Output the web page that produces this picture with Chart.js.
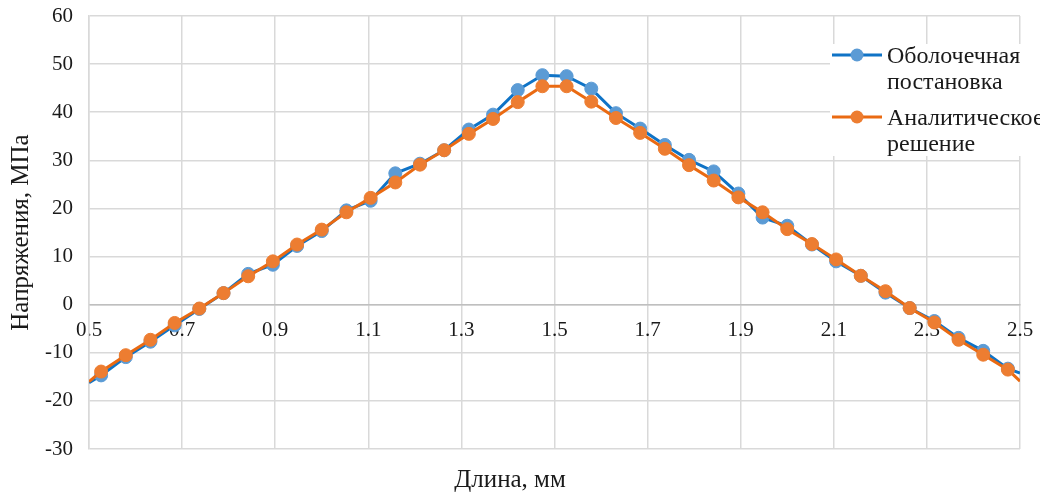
<!DOCTYPE html>
<html>
<head>
<meta charset="utf-8">
<script src="https://cdn.jsdelivr.net/npm/chart.js@4.4.1/dist/chart.umd.min.js"></script>
<style>
  html, body { margin: 0; padding: 0; background: #fff; }
  #chart { display: block; }
</style>
</head>
<body>
<canvas id="chart" width="1040" height="493"></canvas>
<script>
// Длина, мм (ends of the curve have no marker)
const lengthMm = [0.5, 0.526, 0.579, 0.632, 0.684, 0.737, 0.789, 0.842, 0.895, 0.947,
    1.0, 1.053, 1.105, 1.158, 1.211, 1.263, 1.316, 1.368, 1.421, 1.474,
    1.526, 1.579, 1.632, 1.684, 1.737, 1.789, 1.842, 1.895, 1.947, 2.0,
    2.053, 2.105, 2.158, 2.211, 2.263, 2.316, 2.368, 2.421, 2.474, 2.5];

// Оболочечная постановка, МПа
const shellValues = [-16.2, -14.7, -10.9, -7.7, -4.3, -0.9, 2.4, 6.4, 8.3, 12.2,
    15.3, 19.6, 21.6, 27.3, 29.3, 32.1, 36.4, 39.5, 44.6, 47.7,
    47.5, 44.9, 39.8, 36.6, 33.2, 30.1, 27.7, 23.1, 18.1, 16.4,
    12.5, 9.0, 6.0, 2.5, -0.7, -3.4, -6.9, -9.6, -13.3, -14.2];

// Аналитическое решение, МПа
const analyticValues = [-16.0, -13.9, -10.5, -7.3, -3.8, -0.8, 2.4, 5.9, 9.0, 12.5,
    15.6, 19.2, 22.2, 25.4, 29.1, 32.1, 35.5, 38.6, 42.1, 45.4,
    45.4, 42.2, 38.8, 35.7, 32.4, 29.0, 25.8, 22.3, 19.2, 15.7,
    12.6, 9.4, 6.0, 2.8, -0.7, -3.7, -7.3, -10.4, -13.5, -15.9];

const xTicks = [0.5, 0.7, 0.9, 1.1, 1.3, 1.5, 1.7, 1.9, 2.1, 2.3, 2.5];
const yMin = -30, yMax = 60, yStep = 10;

const legendRows = [['Оболочечная', 'постановка'], ['Аналитическое', 'решение']];
const xTitle = 'Длина, мм';
const yTitle = 'Напряжения, МПа';

const TEXT = '#1a1a1a';
const GRID = '#d9d9d9';
Chart.defaults.font.family = '"Liberation Serif", "Times New Roman", serif';
Chart.defaults.color = TEXT;

function to_points(values) {
    return values.map((v, i) => ({ x: lengthMm[i], y: v }));
}

function marker_radius(ctx) {
    const last = lengthMm.length - 1;
    return (ctx.dataIndex === 0 || ctx.dataIndex === last) ? 0 : 6.5;
}

const side_legend = {
    id: 'side_legend',
    afterDraw: (chart) => {
        const ctx = chart.ctx;
        ctx.save();
        ctx.fillStyle = '#fff';
        ctx.fillRect(830, 44, 210, 112);
        ctx.font = '24px "Liberation Serif"';
        ctx.textBaseline = 'middle';
        legendRows.forEach((lines, i) => {
            const ds = chart.data.datasets[i];
            const y = 55 + i * 62;
            ctx.strokeStyle = ds.borderColor;
            ctx.lineWidth = 3;
            ctx.beginPath();
            ctx.moveTo(832, y);
            ctx.lineTo(882, y);
            ctx.stroke();
            ctx.fillStyle = ds.pointBackgroundColor;
            ctx.beginPath();
            ctx.arc(857, y, 6.5, 0, 2 * Math.PI);
            ctx.fill();
            ctx.fillStyle = TEXT;
            lines.forEach((t, j) => ctx.fillText(t, 887, y + 2 + j * 26));
        });
        ctx.restore();
    }
};

const config = {
    type: 'line',
    data: {
        datasets: [{
            label: legendRows[0].join(' '),
            data: to_points(shellValues),
            borderColor: '#0f73c6',
            backgroundColor: '#5b9bd5',
            pointBackgroundColor: '#5b9bd5',
            pointBorderColor: '#5b9bd5',
            borderWidth: 3,
            pointRadius: marker_radius,
            pointBorderWidth: 1,
            tension: 0,
            order: 1
        }, {
            label: legendRows[1].join(' '),
            data: to_points(analyticValues),
            borderColor: '#ea6a12',
            backgroundColor: '#ed7d31',
            pointBackgroundColor: '#ed7d31',
            pointBorderColor: '#ed7d31',
            borderWidth: 3,
            pointRadius: marker_radius,
            pointBorderWidth: 1,
            tension: 0,
            order: 0
        }]
    },
    options: {
        responsive: false,
        animation: false,
        layout: { padding: { left: 0, right: 20, top: 16, bottom: 0 } },
        plugins: {
            legend: { display: false },
            tooltip: { enabled: false },
            title: {
                display: true,
                text: xTitle,
                position: 'bottom',
                color: TEXT,
                font: { size: 25, weight: 'normal', lineHeight: 1 },
                padding: { top: 19, bottom: 0 }
            }
        },
        scales: {
            x: {
                type: 'linear',
                position: { y: 0 },
                min: 0.5,
                max: 2.5,
                afterBuildTicks: (s) => { s.ticks = xTicks.map(v => ({ value: v })); },
                afterFit: (s) => { s.height = 0; s.paddingLeft = 0; s.paddingRight = 0; },
                ticks: {
                    font: { size: 21 },
                    padding: 13,
                    maxRotation: 0,
                    autoSkip: false,
                    callback: (v) => Number(v).toFixed(1)
                },
                grid: { color: GRID, lineWidth: 1.5, drawTicks: false },
                border: { display: true, color: '#bfbfbf', width: 1.5 }
            },
            y: {
                type: 'linear',
                min: yMin,
                max: yMax,
                afterFit: (s) => { s.width = 89; s.paddingTop = 0; s.paddingBottom = 0; },
                ticks: { stepSize: yStep, font: { size: 21 }, padding: 16 },
                grid: { color: GRID, lineWidth: 1.5, drawTicks: false },
                border: { display: true, color: GRID, width: 1.5 },
                title: {
                    display: true,
                    text: yTitle,
                    font: { size: 25 },
                    padding: { top: 6, bottom: 0 }
                }
            }
        }
    },
    plugins: [side_legend]
};

new Chart(document.getElementById('chart').getContext('2d'), config);
</script>
</body>
</html>
